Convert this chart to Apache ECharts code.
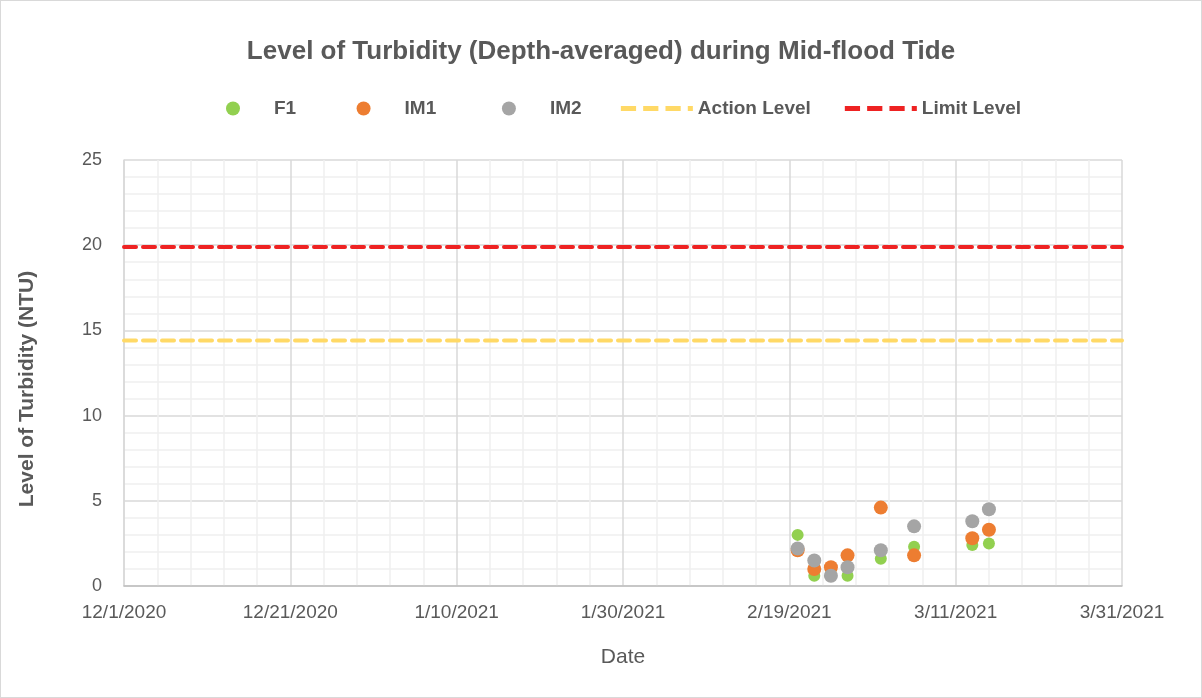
<!DOCTYPE html>
<html>
<head>
<meta charset="utf-8">
<script src="https://cdn.jsdelivr.net/npm/echarts@6/dist/echarts.min.js"></script>
<style>
  body { margin: 0; background: #fff; }
  #chart { width: 1200px; height: 696px; border: 1px solid #d9d9d9; }
</style>
</head>
<body>
<div id="chart"></div>
<script>
// sampling dates and depth-averaged turbidity (NTU)
const dates = ['2021-02-20', '2021-02-22', '2021-02-24', '2021-02-26', '2021-03-02', '2021-03-06', '2021-03-13', '2021-03-15']
const f1 = [3.0, 0.6, 1.0, 0.6, 1.6, 2.3, 2.4, 2.5]
const im1 = [2.1, 1.0, 1.1, 1.8, 4.6, 1.8, 2.8, 3.3]
const im2 = [2.2, 1.5, 0.6, 1.1, 2.1, 3.5, 3.8, 4.5]
const actionLevel = 14.4
const limitLevel = 19.9
const startDate = '2020-12-01'
const endDate = '2021-03-31'

const DAY = 86400000
const t0 = Date.parse(startDate)
const toDay = d => Math.round((Date.parse(d) - t0) / DAY)
const lastDay = toDay(endDate)

function pts(vals) {
  return dates.map((d, i) => [toDay(d), vals[i]])
}

const grey = '#595959'
const font = 'Liberation Sans'
// dashed legend swatch
const dashIcon = 'path://M0,0h15v5h-15z M22,0h15v5h-15z M44,0h15v5h-15z M66,0h5v5h-5z'
// extra room after the dot entries, like the wide slots in the original
const pad = { F1: 5, IM1: 6, IM2: 1 }

const chart = echarts.init(document.getElementById('chart'))
const option = {
  animation: false,
  title: {
    text: 'Level of Turbidity (Depth-averaged) during Mid-flood Tide',
    left: 'center',
    top: 33,
    textStyle: { color: grey, fontSize: 26, fontWeight: 'bold', fontFamily: font }
  },
  legend: {
    top: 93,
    left: 220,
    itemGap: 34,
    itemWidth: 72,
    itemHeight: 14,
    formatter: name => name + '\u00a0'.repeat(pad[name] || 0),
    textStyle: { color: grey, fontSize: 19, fontWeight: 'bold', fontFamily: font },
    data: [
      { name: 'F1', icon: 'circle', itemStyle: { color: '#92D050' } },
      { name: 'IM1', icon: 'circle' },
      { name: 'IM2', icon: 'circle' },
      { name: 'Action Level', icon: dashIcon, itemHeight: 5 },
      { name: 'Limit Level', icon: dashIcon, itemHeight: 5 }
    ]
  },
  grid: { left: 123, right: 79, top: 159, bottom: 111 },
  xAxis: {
    type: 'value',
    min: 0,
    max: lastDay,
    interval: 20,
    name: 'Date',
    nameLocation: 'middle',
    nameGap: 61,
    nameTextStyle: { color: grey, fontSize: 21, fontFamily: font },
    axisLine: { show: true, lineStyle: { color: '#bfbfbf', width: 1.5 } },
    axisTick: { show: false },
    axisLabel: {
      color: grey, fontSize: 19, fontFamily: font, margin: 17,
      formatter: v => {
        const d = new Date(t0 + v * DAY)
        return (d.getUTCMonth() + 1) + '/' + d.getUTCDate() + '/' + d.getUTCFullYear()
      }
    },
    splitLine: { show: true, lineStyle: { color: '#d9d9d9', width: 1.5 } },
    minorTick: { show: false, splitNumber: 5 },
    minorSplitLine: { show: true, lineStyle: { color: '#efefef', width: 1.5 } }
  },
  yAxis: {
    type: 'value',
    min: 0,
    max: 25,
    interval: 5,
    name: 'Level of Turbidity (NTU)',
    nameLocation: 'middle',
    nameGap: 86,
    nameTextStyle: { color: grey, fontSize: 21, fontWeight: 'bold', fontFamily: font, padding: [0, 32, 0, 0] },
    axisLine: { show: true, lineStyle: { color: '#d9d9d9', width: 1.5 } },
    axisTick: { show: false },
    axisLabel: { color: grey, fontSize: 18, fontFamily: font, margin: 22 },
    splitLine: { show: true, lineStyle: { color: '#d9d9d9', width: 1.5 } },
    minorTick: { show: false, splitNumber: 5 },
    minorSplitLine: { show: true, lineStyle: { color: '#efefef', width: 1.5 } }
  },
  series: [
    {
      name: 'Action Level', type: 'line', symbol: 'none', z: 1,
      data: [[0, actionLevel], [lastDay, actionLevel]],
      lineStyle: { color: '#FFD966', width: 4, type: [12, 7], cap: 'round' },
      itemStyle: { color: '#FFD966' }
    },
    {
      name: 'Limit Level', type: 'line', symbol: 'none', z: 1,
      data: [[0, limitLevel], [lastDay, limitLevel]],
      lineStyle: { color: '#EE2222', width: 4, type: [12, 7], cap: 'round' },
      itemStyle: { color: '#EE2222' }
    },
    {
      name: 'F1', type: 'scatter', symbolSize: 12, z: 3,
      data: pts(f1), itemStyle: { color: '#92D050', opacity: 1 }
    },
    {
      name: 'IM1', type: 'scatter', symbolSize: 14, z: 4,
      data: pts(im1), itemStyle: { color: '#ED7D31', opacity: 1 }
    },
    {
      name: 'IM2', type: 'scatter', symbolSize: 14, z: 5,
      data: pts(im2), itemStyle: { color: '#A5A5A5', opacity: 1 }
    }
  ]
}
chart.setOption(option)
</script>
</body>
</html>
